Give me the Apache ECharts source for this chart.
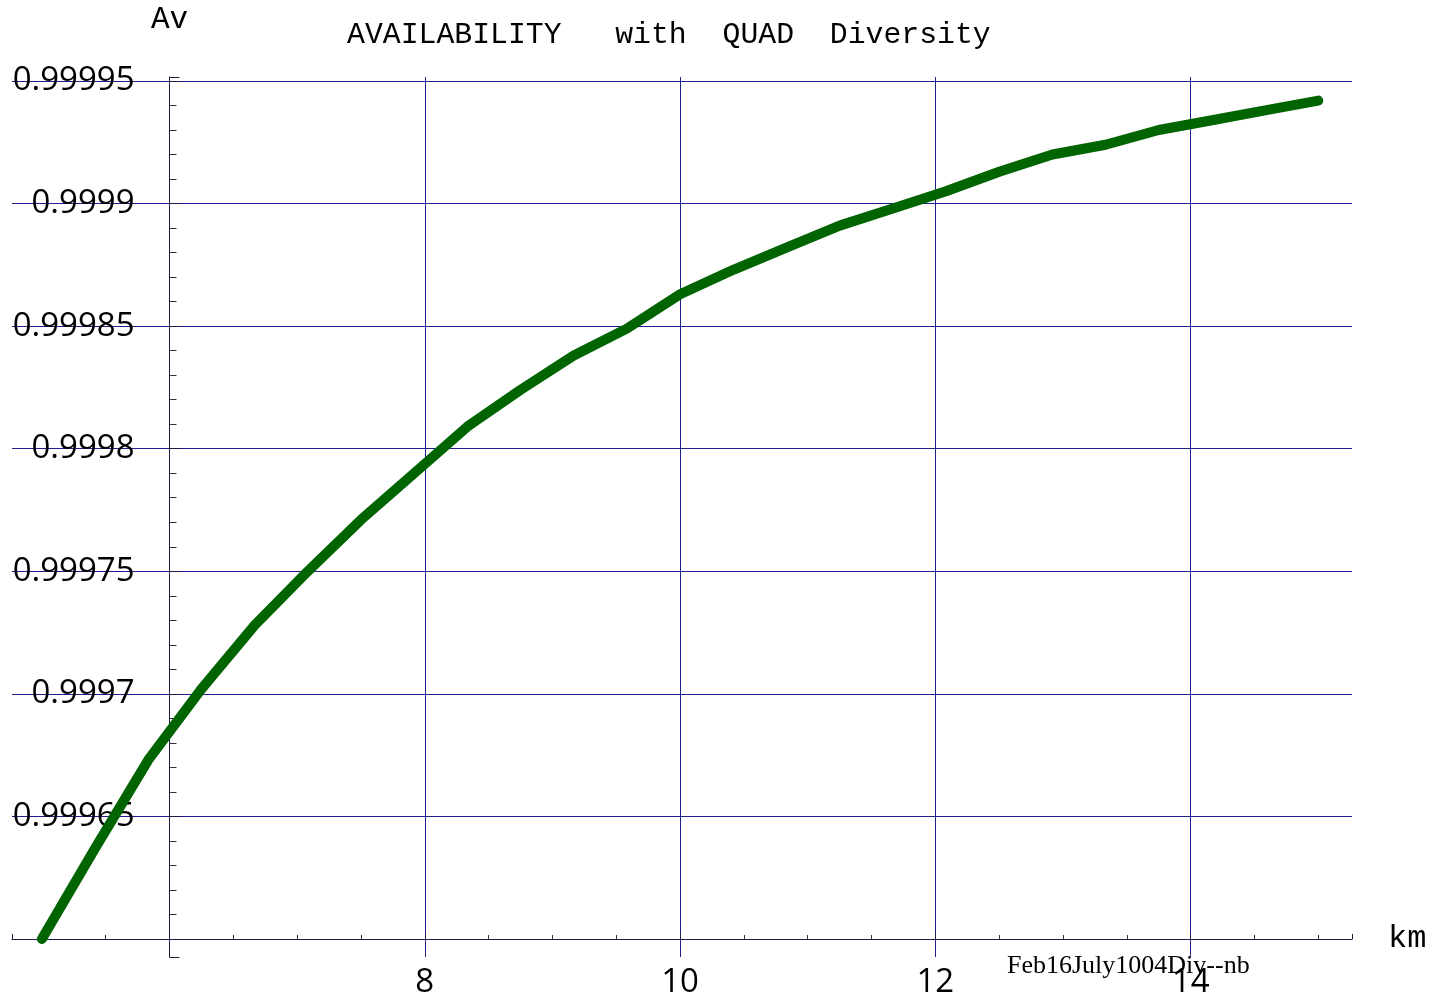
<!DOCTYPE html>
<html>
<head>
<meta charset="utf-8">
<script src="https://cdn.jsdelivr.net/npm/echarts@6/dist/echarts.min.js"></script>
<style>
  html, body { margin: 0; padding: 0; background: #ffffff; }
  #chart { width: 1438px; height: 999px; }
</style>
</head>
<body>
<div id="chart"></div>
<script>
// Availability of a quad-diversity link against path length (km)
const distanceKm = [5, 5.417, 5.833, 6.25, 6.667, 7.083, 7.5, 7.917, 8.333, 8.75,
  9.167, 9.583, 10, 10.417, 10.833, 11.25, 11.667, 12.083, 12.5, 12.917,
  13.333, 13.75, 14.167, 14.583, 15];
const availability = [0.99960, 0.999637, 0.999673, 0.999702, 0.999728, 0.999750,
  0.999771, 0.999790, 0.999809, 0.999824, 0.999838, 0.999849, 0.999863,
  0.999873, 0.999882, 0.999891, 0.999898, 0.999905, 0.999913, 0.999920,
  0.999924, 0.999930, 0.999934, 0.999938, 0.999942];

// Labelled ticks (the crossing point of the axes carries no label)
const xTickValues = [8, 10, 12, 14];
const xTickLabels = ['8', '10', '12', '14'];
const yTickValues = [0.99965, 0.9997, 0.99975, 0.9998, 0.99985, 0.9999, 0.99995];
const yTickLabels = ['0.99965', '0.9997', '0.99975', '0.9998', '0.99985', '0.9999', '0.99995'];

// Plot range and where the axes cross each other
const xMin = 4.766, xMax = 15.264;
const yMin = 0.99959266, yMax = 0.99995163;
const xCross = 6, yCross = 0.9996;

// Grid box in pixels
const W = 1438, H = 999;
const gridLeft = 12, gridRight = 86, gridTop = 77, gridBottom = 42;
const gridW = W - gridLeft - gridRight;
const gridH = H - gridTop - gridBottom;

// Shift the axes so they meet at (xCross, yCross) instead of the grid edges
const yAxisOffset = -((xCross - xMin) / (xMax - xMin)) * gridW;
const xAxisOffset = -((yCross - yMin) / (yMax - yMin)) * gridH;

function pickLabel(values, labels) {
  return function (v) {
    const i = values.findIndex(function (t) { return Math.abs(t - v) < 1e-9; });
    return i < 0 ? '' : labels[i];
  };
}

const axisColor = '#1b1b40';
const gridColor = '#1f1f8f';
const monoFont = 'Liberation Mono';
const tickFont = 'Open Sans';

const chart = echarts.init(document.getElementById('chart'), null, { renderer: 'canvas' });

const option = {
  animation: false,
  backgroundColor: '#ffffff',
  title: [
    {
      text: 'AVAILABILITY   with  QUAD  Diversity',
      left: 342, top: 15,
      textStyle: { fontFamily: monoFont, fontSize: 29.8, fontWeight: 'normal', color: '#000' }
    },
    {
      text: 'Feb16July1004Div--nb',
      left: 1002, top: 948,
      textStyle: { fontFamily: 'Liberation Serif', fontSize: 26, fontWeight: 'normal', color: '#000' }
    }
  ],
  grid: { left: gridLeft, right: gridRight, top: gridTop, bottom: gridBottom, outerBoundsMode: 'none' },
  xAxis: {
    type: 'value',
    min: xMin, max: xMax,
    splitNumber: 5, minInterval: 2, maxInterval: 2,
    offset: xAxisOffset,
    name: 'km', nameLocation: 'end', nameGap: 36,
    nameTextStyle: { fontFamily: monoFont, fontSize: 32, color: '#000', verticalAlign: 'middle' },
    axisLine: { show: true, onZero: false, lineStyle: { color: axisColor, width: 1 } },
    axisTick: { show: true, inside: true, length: 5, lineStyle: { color: axisColor } },
    minorTick: { show: true, splitNumber: 4, length: 4, lineStyle: { color: '#333' } },
    axisLabel: {
      margin: 27, fontFamily: tickFont, fontSize: 33, color: '#000',
      showMinLabel: false, showMaxLabel: false,
      formatter: pickLabel(xTickValues, xTickLabels)
    },
    splitLine: { show: true, showMinLine: false, showMaxLine: false, lineStyle: { color: gridColor, width: 1 } }
  },
  yAxis: {
    type: 'value',
    min: yMin, max: yMax,
    splitNumber: 7, minInterval: 0.00005, maxInterval: 0.00005,
    offset: yAxisOffset,
    name: 'Av', nameLocation: 'end', nameGap: 42,
    nameTextStyle: { fontFamily: monoFont, fontSize: 31, color: '#000' },
    axisLine: { show: true, onZero: false, lineStyle: { color: axisColor, width: 1 } },
    axisTick: { show: true, inside: true, length: 10, lineStyle: { color: axisColor } },
    minorTick: { show: true, splitNumber: 5, length: 7, lineStyle: { color: '#333' } },
    axisLabel: {
      margin: 35, fontFamily: tickFont, fontSize: 33, color: '#000',
      padding: [4, 0, 0, 0],
      showMinLabel: false, showMaxLabel: false,
      formatter: pickLabel(yTickValues, yTickLabels)
    },
    splitLine: { show: true, showMinLine: false, showMaxLine: false, lineStyle: { color: gridColor, width: 1 } }
  },
  series: [{
    type: 'line',
    data: distanceKm.map(function (x, i) { return [x, availability[i]]; }),
    symbol: 'none',
    clip: false,
    z: 5,
    lineStyle: { color: '#006400', width: 10, cap: 'round', join: 'round' }
  }]
};

chart.setOption(option);
</script>
</body>
</html>
